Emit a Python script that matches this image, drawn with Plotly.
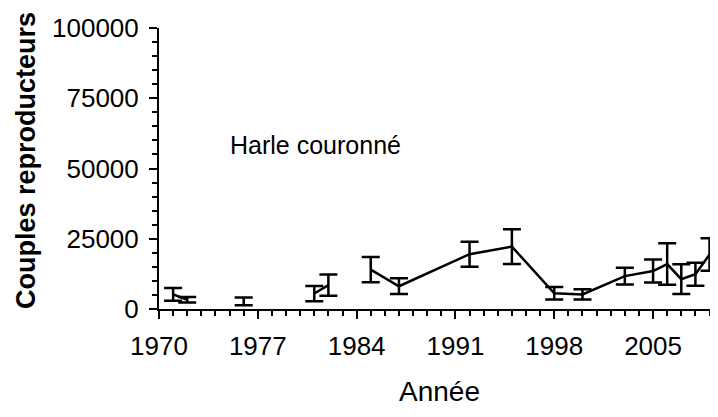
import plotly.graph_objects as go

# Harle couronné - couples reproducteurs (estimations)
annees = [1971, 1972, 1976, 1981, 1982, 1985, 1987, 1992, 1995, 1998, 2000,
          2003, 2005, 2006, 2007, 2008, 2009]
couples = [5200, 3300, 2700, 5500, 8500, 14000, 8100, 19500, 22200, 5600, 5200,
           11700, 13500, 16000, 10600, 12400, 19400]
erreur = [2300, 1000, 1400, 2700, 3800, 4500, 2800, 4450, 6200, 2250, 1800,
          3000, 4100, 7400, 5300, 4100, 5800]
# series de points relies par une ligne
segment = [0, 0, 1, 2, 2, 3, 3, 3, 3, 3, 3, 3, 3, 3, 3, 3, 3]

fig = go.Figure()
for s in sorted(set(segment)):
    idx = [i for i, g in enumerate(segment) if g == s]
    fig.add_trace(go.Scatter(
        x=[annees[i] for i in idx],
        y=[couples[i] for i in idx],
        mode="lines",
        line=dict(color="black", width=2.5),
        error_y=dict(type="data", array=[erreur[i] for i in idx],
                     color="black", thickness=2.5, width=9),
        cliponaxis=False,
        showlegend=False,
    ))

tickfont = dict(family="Liberation Sans, Arial", size=26, color="black")

# la page html ajoute une marge de 8 px autour du graphique
fig.update_layout(
    width=718, height=417,
    margin=dict(l=151, r=8, t=20, b=116, autoexpand=False),
    paper_bgcolor="white", plot_bgcolor="white",
    xaxis=dict(
        range=[1970, 2009.6], tick0=1970, dtick=7,
        showgrid=False, zeroline=False, automargin=False,
        showline=True, linecolor="black", linewidth=2,
        ticks="outside", ticklen=8, tickwidth=2, tickcolor="black",
        minor=dict(dtick=1, ticks="outside", ticklen=5, tickwidth=2,
                   tickcolor="black", showgrid=False),
        tickfont=tickfont, ticklabelstandoff=5,
    ),
    yaxis=dict(
        range=[0, 100000], tick0=0, dtick=25000,
        showgrid=False, zeroline=False, automargin=False,
        showline=True, linecolor="black", linewidth=2,
        ticks="outside", ticklen=8, tickwidth=2, tickcolor="black",
        minor=dict(dtick=5000, ticks="outside", ticklen=5, tickwidth=2,
                   tickcolor="black", showgrid=False),
        tickfont=tickfont, ticklabelstandoff=5,
        tickformat="d",
    ),
    annotations=[
        dict(x=1981.1, y=58400, xref="x", yref="y",
             xanchor="center", yanchor="middle",
             text="Harle couronné", showarrow=False,
             font=dict(family="Liberation Sans, Arial", size=25, color="black")),
        dict(x=0.501, y=-0.292, xref="paper", yref="paper",
             xanchor="center", yanchor="middle",
             text="Année", showarrow=False,
             font=dict(family="Liberation Sans, Arial", size=28, color="black")),
        dict(x=-0.238, y=0.53, xref="paper", yref="paper",
             xanchor="center", yanchor="middle",
             text="<b>Couples reproducteurs</b>", showarrow=False, textangle=-90,
             font=dict(family="Liberation Sans, Arial", size=27, color="black")),
    ],
)

fig.write_html("out.html")
